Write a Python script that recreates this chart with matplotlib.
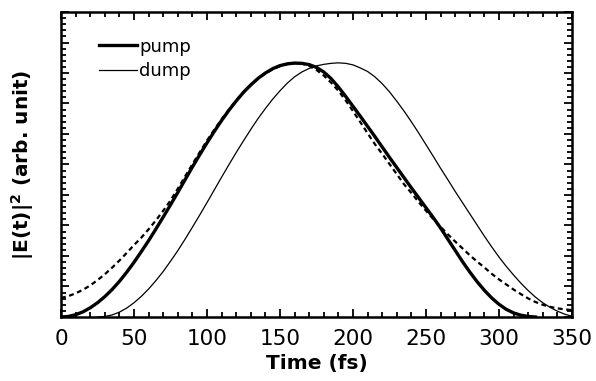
import numpy as np
import matplotlib
matplotlib.use("Agg")
import matplotlib.pyplot as plt
from matplotlib.ticker import MultipleLocator, NullFormatter

# values (arb. units, peak ~ 1), every 5 fs
t_pump = list(range(0, 330, 5))
pump = [0.0, 0.002, 0.009, 0.02, 0.036, 0.056, 0.08, 0.108, 0.14, 0.176, 0.215, 0.257,
        0.3, 0.346, 0.393, 0.441, 0.49, 0.54, 0.59, 0.638, 0.685, 0.73, 0.773, 0.813,
        0.85, 0.884, 0.913, 0.939, 0.96, 0.977, 0.989, 0.996, 0.999, 0.998, 0.993, 0.982,
        0.964, 0.938, 0.905, 0.868, 0.829, 0.79, 0.75, 0.71, 0.669, 0.628, 0.588, 0.548,
        0.508, 0.469, 0.43, 0.391, 0.35, 0.306, 0.262, 0.218, 0.177, 0.139, 0.105, 0.075,
        0.05, 0.03, 0.016, 0.007, 0.002, 0.0]

t_dump = list(range(25, 355, 5))
dump = [0.0, 0.002, 0.008, 0.019, 0.035, 0.056, 0.081, 0.11, 0.143, 0.179, 0.219, 0.261,
        0.306, 0.353, 0.401, 0.45, 0.5, 0.55, 0.599, 0.647, 0.693, 0.738, 0.781, 0.82,
        0.857, 0.89, 0.92, 0.945, 0.964, 0.978, 0.988, 0.994, 0.998, 1.0, 0.998, 0.992,
        0.98, 0.966, 0.945, 0.918, 0.886, 0.849, 0.81, 0.768, 0.724, 0.678, 0.632, 0.585,
        0.54, 0.494, 0.45, 0.406, 0.362, 0.318, 0.276, 0.236, 0.199, 0.165, 0.133, 0.104,
        0.078, 0.056, 0.038, 0.023, 0.011, 0.003]

t_fit = list(range(0, 355, 5))
fit = [0.075, 0.082, 0.093, 0.107, 0.124, 0.145, 0.168, 0.194, 0.222, 0.252, 0.283, 0.312,
       0.345, 0.38, 0.418, 0.458, 0.505, 0.553, 0.601, 0.648, 0.694, 0.737, 0.778, 0.816,
       0.852, 0.884, 0.912, 0.937, 0.958, 0.975, 0.987, 0.995, 0.999, 0.997, 0.988, 0.972,
       0.95, 0.922, 0.89, 0.852, 0.81, 0.767, 0.723, 0.68, 0.642, 0.602, 0.562, 0.522,
       0.488, 0.452, 0.418, 0.385, 0.355, 0.325, 0.297, 0.27, 0.243, 0.218, 0.195, 0.17,
       0.148, 0.128, 0.108, 0.09, 0.073, 0.059, 0.048, 0.04, 0.034, 0.03, 0.027]

fig = plt.figure(figsize=(5.96, 3.81), dpi=100)
ax = fig.add_axes([0.1023, 0.168, 0.8574, 0.8005])

ax.plot(t_fit, fit, color="black", lw=1.6, ls=(0, (2.2, 1.6)))
ax.plot(t_pump, pump, color="black", lw=2.4, label="pump")
ax.plot(t_dump, dump, color="black", lw=0.9, label="dump")

ax.set_xlim(0, 350)
ax.set_ylim(0, 1.2)
ax.xaxis.set_major_locator(MultipleLocator(50))
ax.xaxis.set_minor_locator(MultipleLocator(10))
ax.yaxis.set_major_locator(MultipleLocator(0.12))
ax.yaxis.set_minor_locator(MultipleLocator(0.024))
ax.yaxis.set_major_formatter(NullFormatter())
ax.tick_params(which="both", direction="in", top=True, right=True, width=1.3)
ax.tick_params(which="major", length=6, labelsize=15.5, pad=9)
ax.tick_params(which="minor", length=3.5)
for s in ax.spines.values():
    s.set_linewidth(1.8)

ax.set_xlabel("Time (fs)", fontsize=14.5, fontweight="bold", labelpad=3)
ax.set_ylabel(r"|E(t)|$^\mathbf{2}$ (arb. unit)", fontsize=14.5, fontweight="bold", labelpad=9)

ax.legend(loc="upper left", bbox_to_anchor=(0.06, 0.94), frameon=False, fontsize=13,
          handlelength=2.1, handletextpad=0.15, labelspacing=0.35, borderaxespad=0)

fig.savefig("out.png", dpi=100)
